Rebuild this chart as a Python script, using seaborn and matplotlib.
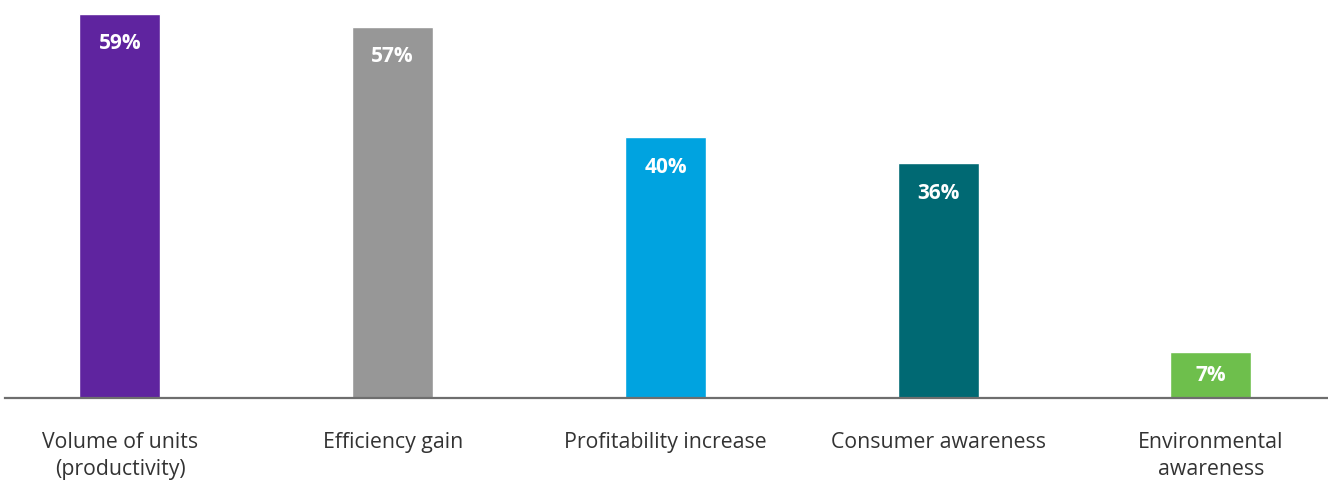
import matplotlib
matplotlib.use("Agg")
import matplotlib.pyplot as plt
import seaborn as sns
import pandas as pd

categories = ["Volume of units\n(productivity)", "Efficiency gain", "Profitability increase",
              "Consumer awareness", "Environmental\nawareness"]
values = [59, 57, 40, 36, 7]
colors = ["#5f249f", "#979797", "#00a3e0", "#006973", "#6ebf4c"]

sns.set_theme(style="white")
plt.rcParams["font.family"] = ["Open Sans", "DejaVu Sans"]

df = pd.DataFrame({"category": categories, "value": values})

fig = plt.figure(figsize=(13.28, 4.8), dpi=100)
ax = fig.add_axes([5 / 1328, 1 - 397.5 / 480, 1 - 5 / 1328, 397.5 / 480])

sns.barplot(data=df, x="category", y="value", hue="category", palette=colors,
            legend=False, width=0.297, saturation=1, ax=ax)

ax.set_xlim(-0.4216, 4.429)
ax.set_ylim(0, 61.1)
ax.set_xlabel("")
ax.set_ylabel("")
ax.set_yticks([])

for side in ["left", "right", "top"]:
    ax.spines[side].set_visible(False)
ax.spines["bottom"].set_color("#6e6e6e")
ax.spines["bottom"].set_linewidth(1.6)

ax.tick_params(axis="x", length=0, pad=25, labelsize=15.3, labelcolor="#333333")
for lbl in ax.get_xticklabels():
    lbl.set_linespacing(1.38)

# value labels sit near the top of each bar; short bars get them centred
px_per_unit = ax.bbox.height / (ax.get_ylim()[1] - ax.get_ylim()[0])
for i, v in enumerate(values):
    offset = min(30, v * px_per_unit / 2 + 1)
    ax.annotate(f"{v}%", xy=(i, v), xytext=(0, -offset), textcoords="offset pixels",
                ha="center", va="center", color="white", fontsize=15, fontweight="bold")

fig.savefig("out.png", dpi=100)
